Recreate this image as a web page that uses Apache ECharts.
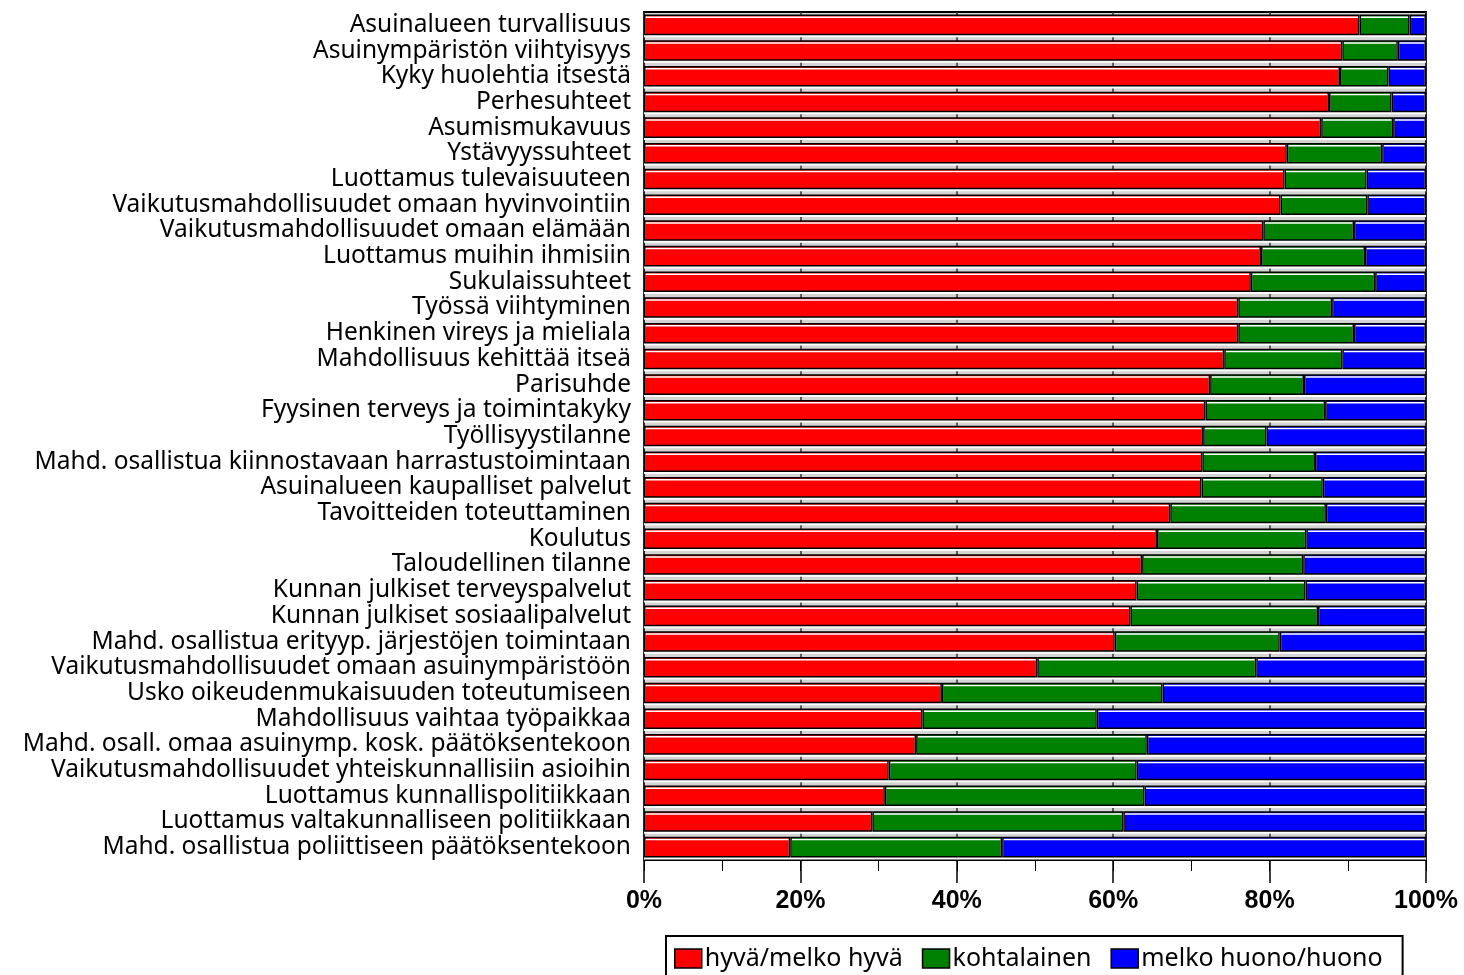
<!DOCTYPE html>
<html>
<head>
    <meta charset="UTF-8">
    <title></title>
    <script src="https://cdn.jsdelivr.net/npm/echarts@6/dist/echarts.min.js"></script>
    <style>
        *{margin:0;padding:0;}
        body,html{
            height: 100%;
            width: 100%;
            background: #fff;
        }
        #main{
            width: 1464px;
            height: 975px;
        }
    </style>
</head>
<body>
<div id="main"></div>
</body>

<script>
    // kategoriat ylhäältä alas
    var categories = [
        'Asuinalueen turvallisuus',
        'Asuinympäristön viihtyisyys',
        'Kyky huolehtia itsestä',
        'Perhesuhteet',
        'Asumismukavuus',
        'Ystävyyssuhteet',
        'Luottamus tulevaisuuteen',
        'Vaikutusmahdollisuudet omaan hyvinvointiin',
        'Vaikutusmahdollisuudet omaan elämään',
        'Luottamus muihin ihmisiin',
        'Sukulaissuhteet',
        'Työssä viihtyminen',
        'Henkinen vireys ja mieliala',
        'Mahdollisuus kehittää itseä',
        'Parisuhde',
        'Fyysinen terveys ja toimintakyky',
        'Työllisyystilanne',
        'Mahd. osallistua kiinnostavaan harrastustoimintaan',
        'Asuinalueen kaupalliset palvelut',
        'Tavoitteiden toteuttaminen',
        'Koulutus',
        'Taloudellinen tilanne',
        'Kunnan julkiset terveyspalvelut',
        'Kunnan julkiset sosiaalipalvelut',
        'Mahd. osallistua erityyp. järjestöjen toimintaan',
        'Vaikutusmahdollisuudet omaan asuinympäristöön',
        'Usko oikeudenmukaisuuden toteutumiseen',
        'Mahdollisuus vaihtaa työpaikkaa',
        'Mahd. osall. omaa asuinymp. kosk. päätöksentekoon',
        'Vaikutusmahdollisuudet yhteiskunnallisiin asioihin',
        'Luottamus kunnallispolitiikkaan',
        'Luottamus valtakunnalliseen politiikkaan',
        'Mahd. osallistua poliittiseen päätöksentekoon'
    ];

    // hyvä/melko hyvä (%)
    var hyva = [91.5, 89.3, 89.0, 87.6, 86.6, 82.2, 81.9, 81.4, 79.2, 78.9, 77.6,
        76.0, 76.0, 74.2, 72.4, 71.8, 71.5, 71.4, 71.3, 67.3, 65.6, 63.7, 63.0,
        62.2, 60.2, 50.3, 38.1, 35.6, 34.8, 31.3, 30.8, 29.2, 18.7];
    // kohtalainen (%)
    var kohtalainen = [6.4, 7.1, 6.2, 8.0, 9.2, 12.2, 10.5, 11.1, 11.6, 13.3, 15.9,
        12.0, 14.8, 15.1, 12.0, 15.3, 8.1, 14.4, 15.5, 19.9, 19.1, 20.6, 21.6,
        24.0, 21.1, 28.0, 28.2, 22.3, 29.5, 31.7, 33.2, 32.1, 27.1];
    // melko huono/huono (%)
    var huono = [2.1, 3.6, 4.8, 4.4, 4.2, 5.6, 7.6, 7.5, 9.2, 7.8, 6.5,
        12.0, 9.2, 10.7, 15.6, 12.9, 20.4, 14.2, 13.2, 12.8, 15.3, 15.7, 15.4,
        13.8, 18.7, 21.7, 33.7, 42.1, 35.7, 37.0, 36.0, 38.7, 54.2];

    var seriesNames = ['hyvä/melko hyvä', 'kohtalainen', 'melko huono/huono'];
    var seriesColors = ['#ff0000', '#008000', '#0000ff'];
    var seriesData = [hyva, kohtalainen, huono];

    var myChart = echarts.init(document.getElementById('main'));

    var series = [];
    for (var i = 0; i < seriesData.length; i++) {
        series.push({
            name: seriesNames[i],
            type: 'bar',
            stack: 'total',
            xAxisIndex: 0,
            barCategoryGap: '20%',
            itemStyle: {
                color: seriesColors[i],
                borderColor: '#000',
                borderWidth: 1.5,
                shadowColor: '#fff',
                shadowBlur: 0,
                shadowOffsetY: 2
            },
            data: seriesData[i]
        });
    }

    var option = {
        animation: false,
        backgroundColor: '#fff',
        textStyle: {fontFamily: 'Noto Sans', color: '#000'},
        legend: {
            left: 666,
            top: 936,
            padding: [10, 20, 14, 8],
            borderColor: '#000',
            borderWidth: 2,
            itemWidth: 27,
            itemHeight: 19,
            itemGap: 19,
            icon: 'rect',
            itemStyle: {borderColor: '#000', borderWidth: 1.5},
            textStyle: {fontSize: 25, color: '#000', fontFamily: 'Noto Sans', padding: [0, 0, 0, -2]},
            data: seriesNames
        },
        grid: {
            left: 644,
            right: 38,
            top: 12,
            bottom: 115,
            show: true,
            backgroundColor: '#d4d4d4',
            borderColor: '#000',
            borderWidth: 2
        },
        xAxis: [{
            type: 'value',
            min: 0,
            max: 100,
            interval: 20,
            axisLine: {show: false},
            axisTick: {show: true, length: 23, lineStyle: {color: '#000', width: 1.5}},
            splitLine: {show: true, lineStyle: {color: '#333', width: 1.5}},
            axisLabel: {
                formatter: '{value}%',
                fontSize: 25,
                fontWeight: 'bold',
                fontFamily: 'Liberation Sans',
                color: '#000',
                margin: 29
            }
        }, {
            type: 'value',
            min: 0,
            max: 100,
            interval: 10,
            position: 'bottom',
            axisLine: {show: false},
            axisTick: {show: true, length: 11, lineStyle: {color: '#000', width: 1}},
            splitLine: {show: false},
            axisLabel: {show: false}
        }],
        yAxis: {
            type: 'category',
            inverse: true,
            data: categories,
            axisLine: {show: false},
            axisTick: {show: false},
            axisLabel: {
                interval: 0,
                fontSize: 24.5,
                color: '#000',
                margin: 13,
                fontFamily: 'Noto Sans'
            }
        },
        series: series
    };

    myChart.setOption(option);
</script>
</html>
